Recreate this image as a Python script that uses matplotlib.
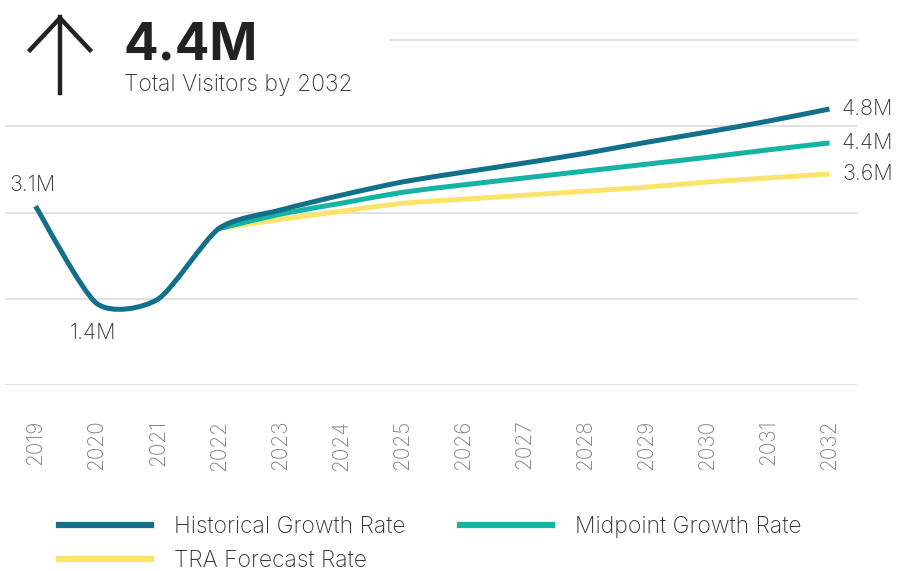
#!/usr/bin/env python3

import matplotlib
matplotlib.use("Agg")
import matplotlib.pyplot as plt
from matplotlib.path import Path
from matplotlib.patches import PathPatch
from matplotlib.lines import Line2D
import numpy as np

plt.rcParams['font.family'] = ['Inter', 'DejaVu Sans']

years = list(range(2019, 2033))
historical = [3.11, 1.42, 1.49, 2.72, 3.04, 3.30, 3.53, 3.70, 3.86, 4.03, 4.22, 4.40, 4.59, 4.80]
fc_years = list(range(2022, 2033))
midpoint = [2.72, 2.97, 3.16, 3.35, 3.48, 3.60, 3.72, 3.84, 3.96, 4.09, 4.21]
tra = [2.72, 2.88, 3.02, 3.16, 3.23, 3.30, 3.37, 3.44, 3.53, 3.60, 3.67]

labels_start = ["3.1M", "1.4M"]
labels_end = ["4.8M", "4.4M", "3.6M"]

HIST = "#13708a"
MID = "#14b3a3"
TRA = "#fce46a"


def smooth_path(xs, ys, t=0.12):
    # cardinal spline through the points, drawn as bezier segments
    xs = np.asarray(xs, float)
    ys = np.asarray(ys, float)
    n = len(xs)
    verts = [(xs[0], ys[0])]
    codes = [Path.MOVETO]
    for i in range(n - 1):
        x0, y0 = (xs[i - 1], ys[i - 1]) if i > 0 else (xs[i], ys[i])
        x1, y1 = xs[i], ys[i]
        x2, y2 = xs[i + 1], ys[i + 1]
        x3, y3 = (xs[i + 2], ys[i + 2]) if i + 2 < n else (x2, y2)
        verts += [(x1 + (x2 - x0) * t, y1 + (y2 - y0) * t),
                  (x2 - (x3 - x1) * t, y2 - (y3 - y1) * t),
                  (x2, y2)]
        codes += [Path.CURVE4] * 3
    return Path(verts, codes)


fig = plt.figure(figsize=(8.99, 5.71), dpi=100)
ax = fig.add_axes([5 / 899, 1 - 385 / 571, 852 / 899, 345 / 571])
ax.set_xlim(2018.5, 2032.45)
ax.set_ylim(0, 6)

for g in [0, 1.5, 3.0, 4.5]:
    ax.axhline(g, color="#d9d9d9", lw=1.1, zorder=0)
ax.axhline(6.0, xmin=385 / 852, color="#d9d9d9", lw=1.1, zorder=0, clip_on=False)

for xs, ys, c, z in [(fc_years, tra, TRA, 2), (fc_years, midpoint, MID, 3), (years, historical, HIST, 4)]:
    ax.add_patch(PathPatch(smooth_path(xs, ys), fill=False, edgecolor=c, lw=3.6,
                           capstyle="butt", joinstyle="round", zorder=z))

for s in ax.spines.values():
    s.set_visible(False)
ax.set_yticks([])
ax.set_xticks(years)
ax.set_xticklabels([str(y) for y in years], rotation=90, fontsize=15, color="#808080",
                   fontweight="light")
ax.tick_params(axis="x", length=0, pad=25)

lab_kw = dict(fontsize=15.5, color="#333333", fontweight="light")
ax.annotate(labels_start[0], (years[0], historical[0]), xytext=(-2, 8), textcoords="offset points",
            ha="center", va="bottom", **lab_kw)
ax.annotate(labels_start[1], (years[1], historical[1]), xytext=(-3, -14), textcoords="offset points",
            ha="center", va="top", **lab_kw)
for lab, v in zip(labels_end, [historical[-1], midpoint[-1], tra[-1]]):
    ax.annotate(lab, (years[-1], v), xytext=(9, 0), textcoords="offset points",
                ha="left", va="center", annotation_clip=False, **lab_kw)

# headline
fig.text(123 / 899, 1 - 60 / 571, "4.4M", fontsize=37, fontweight="bold", color="#222222")
fig.text(124 / 899, 1 - 91 / 571, "Total Visitors by 2032", fontsize=16.5, fontweight="light",
         color="#333333")
arrow_kw = dict(color="#222222", lw=3.2, transform=fig.transFigure)
fig.add_artist(Line2D([60 / 899, 60 / 899], [1 - 17 / 571, 1 - 93 / 571], **arrow_kw))
fig.add_artist(Line2D([30 / 899, 60 / 899, 90 / 899], [1 - 50 / 571, 1 - 18 / 571, 1 - 50 / 571],
                      solid_joinstyle="miter", **arrow_kw))

handles = [Line2D([], [], color=HIST, lw=4.5), Line2D([], [], color=TRA, lw=4.5),
           Line2D([], [], color=MID, lw=4.5)]
names = ["Historical Growth Rate", "TRA Forecast Rate", "Midpoint Growth Rate"]
leg = fig.legend(handles, names, ncol=2, loc="upper left", bbox_to_anchor=(50 / 899, 1 - 507 / 571),
                 frameon=False, fontsize=16.5, handlelength=4.0, handletextpad=1.0,
                 columnspacing=2.4, labelspacing=0.5, borderaxespad=0)
for t in leg.get_texts():
    t.set_color("#333333")
    t.set_fontweight("light")

fig.savefig("out.png", dpi=100, facecolor="white")
